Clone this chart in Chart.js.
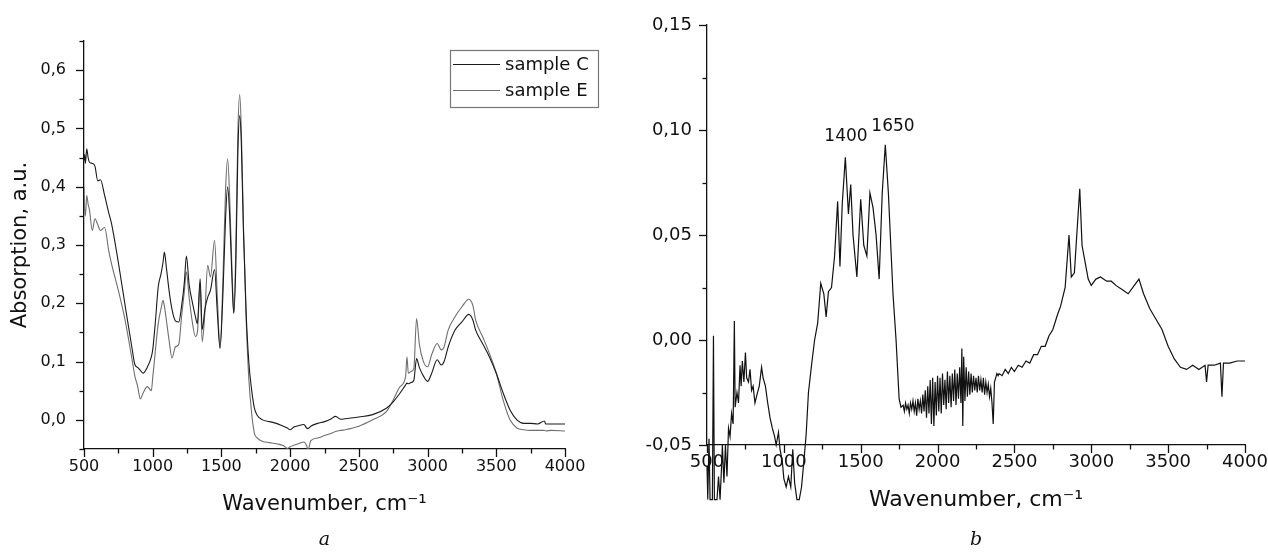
<!DOCTYPE html>
<html>
<head>
<meta charset="utf-8">
<script src="https://cdn.jsdelivr.net/npm/chart.js@4.4.1/dist/chart.umd.min.js"></script>
<style>
  html, body { margin: 0; padding: 0; background: #fff; }
  #wrap { position: relative; width: 1268px; height: 554px; overflow: hidden; }
  #chartA { position: absolute; left: 0; top: 0; }
  #chartB { position: absolute; left: 640px; top: 0; }
</style>
</head>
<body>
<div id="wrap">
  <canvas id="chartA" width="640" height="554"></canvas>
  <canvas id="chartB" width="628" height="554"></canvas>
</div>
<script>
// Panel a: two samples
const wnA = [500, 505, 510, 520, 530, 540, 560, 580, 600, 620, 650, 680, 700, 750, 800, 850, 870, 890, 910, 930,
  960, 990, 1000, 1020, 1040, 1060, 1075, 1085, 1100, 1120, 1140, 1165, 1190, 1210, 1230, 1245, 1265, 1290, 1310, 1325,
  1345, 1360, 1380, 1400, 1420, 1450, 1470, 1490, 1510, 1530, 1545, 1560, 1580, 1590, 1605, 1620, 1633, 1645, 1660, 1680,
  1700, 1720, 1740, 1760, 1800, 1850, 1900, 1950, 1980, 2000, 2030, 2060, 2100, 2120, 2130, 2150, 2200, 2250, 2300, 2330,
  2370, 2400, 2500, 2600, 2700, 2750, 2800, 2840, 2850, 2860, 2880, 2900, 2920, 2940, 2970, 3000, 3030, 3070, 3100, 3120,
  3150, 3200, 3250, 3300, 3330, 3350, 3400, 3450, 3500, 3550, 3600, 3650, 3700, 3750, 3800, 3850, 3860, 3900, 4000];

const sampleC = [0.445, 0.455, 0.44, 0.465, 0.45, 0.442, 0.44, 0.435, 0.41, 0.412, 0.385, 0.355, 0.337, 0.27, 0.195, 0.122, 0.095, 0.09, 0.085, 0.08,
  0.09, 0.108, 0.12, 0.17, 0.228, 0.25, 0.27, 0.288, 0.26, 0.22, 0.19, 0.17, 0.168, 0.195, 0.235, 0.281, 0.232, 0.2, 0.178, 0.165,
  0.242, 0.155, 0.19, 0.21, 0.222, 0.258, 0.185, 0.123, 0.21, 0.345, 0.4, 0.35, 0.222, 0.183, 0.268, 0.462, 0.522, 0.473, 0.325, 0.183,
  0.097, 0.051, 0.02, 0.008, 0.0, -0.003, -0.006, -0.011, -0.014, -0.017, -0.012, -0.01, -0.008, -0.014, -0.015, -0.011, -0.006, -0.003, 0.002, 0.006,
  0.001, 0.002, 0.005, 0.009, 0.02, 0.031, 0.046, 0.06, 0.063, 0.062, 0.064, 0.068, 0.105, 0.09, 0.075, 0.066, 0.08, 0.103, 0.094, 0.1,
  0.125, 0.154, 0.168, 0.181, 0.171, 0.154, 0.131, 0.108, 0.08, 0.046, 0.017, 0.0, -0.006, -0.006, -0.007, -0.002, -0.007, -0.007, -0.007];

const sampleE = [0.40, 0.36, 0.35, 0.385, 0.37, 0.36, 0.325, 0.345, 0.335, 0.325, 0.33, 0.29, 0.268, 0.222, 0.17, 0.103, 0.075, 0.058, 0.036, 0.046,
  0.057, 0.05, 0.072, 0.12, 0.165, 0.19, 0.205, 0.195, 0.17, 0.135, 0.106, 0.125, 0.13, 0.177, 0.22, 0.254, 0.21, 0.165, 0.143, 0.15,
  0.232, 0.134, 0.185, 0.265, 0.245, 0.308, 0.211, 0.123, 0.234, 0.394, 0.448, 0.382, 0.234, 0.183, 0.297, 0.496, 0.558, 0.496, 0.337, 0.171,
  0.068, 0.011, -0.023, -0.031, -0.037, -0.039, -0.041, -0.044, -0.049, -0.046, -0.043, -0.041, -0.038, -0.044, -0.052, -0.036, -0.031, -0.027, -0.023, -0.02,
  -0.018, -0.017, -0.011, 0.0, 0.014, 0.034, 0.057, 0.074, 0.108, 0.08, 0.083, 0.088, 0.174, 0.13, 0.1, 0.091, 0.112, 0.131, 0.12, 0.125,
  0.154, 0.177, 0.194, 0.207, 0.196, 0.171, 0.143, 0.114, 0.08, 0.034, 0.0, -0.014, -0.017, -0.018, -0.018, -0.018, -0.019, -0.018, -0.019];

// Panel b: difference spectrum
const wnB = [500, 505, 513, 520, 535, 542, 548, 565, 575, 585, 595, 600, 610, 620, 630, 640, 650, 660, 670, 678,
  683, 695, 705, 715, 722, 730, 740, 750, 758, 770, 780, 790, 800, 812, 825, 840, 855, 865, 880, 895,
  910, 925, 940, 950, 965, 975, 990, 1000, 1015, 1030, 1045, 1058, 1070, 1085, 1100, 1115, 1130, 1145, 1160, 1180,
  1200, 1220, 1240, 1260, 1275, 1290, 1310, 1330, 1350, 1365, 1380, 1400, 1420, 1435, 1450, 1475, 1500, 1520, 1540, 1560,
  1580, 1600, 1620, 1640, 1660, 1680, 1700, 1710, 1730, 1750,
  1762, 1776, 1784, 1792, 1800, 1808, 1816, 1824, 1832, 1840,
  1848, 1856, 1864, 1872, 1880, 1888, 1896, 1904, 1912, 1920,
  1928, 1936, 1944, 1952, 1960, 1968, 1976, 1984, 1992, 2000,
  2008, 2016, 2024, 2032, 2040, 2048, 2056, 2064, 2072, 2080,
  2088, 2096, 2104, 2112, 2120, 2128, 2136, 2144, 2152, 2158,
  2164, 2170, 2178, 2186, 2194, 2202, 2210, 2218, 2226, 2234,
  2242, 2250, 2258, 2266, 2274, 2282, 2290, 2298, 2306, 2314,
  2322, 2330, 2338, 2346, 2354, 2362, 2370, 2378, 2386, 2394,
  2400, 2420, 2440, 2460, 2480, 2500, 2525, 2550, 2575, 2600,
  2625, 2650, 2675, 2700, 2725, 2750, 2780, 2800, 2830, 2845,
  2855, 2870, 2890, 2910, 2925, 2940, 2960, 2980, 3000, 3030,
  3060, 3100, 3130, 3160, 3200, 3240, 3280, 3310, 3340, 3380,
  3420, 3460, 3500, 3540, 3580, 3620, 3660, 3700, 3740, 3750,
  3760, 3800, 3840, 3850, 3860, 3900, 3950, 4000];

const absB = [-0.06, -0.076, -0.047, -0.076, -0.076, 0.002, -0.076, -0.076, -0.065, -0.076, -0.06, -0.05, -0.068, -0.05, -0.065, -0.042, -0.046, -0.035, -0.04, 0.009,
  -0.032, -0.025, -0.03, -0.012, -0.022, -0.01, -0.02, -0.006, -0.018, -0.02, -0.014, -0.024, -0.022, -0.03, -0.026, -0.022, -0.013, -0.018, -0.022, -0.03,
  -0.037, -0.042, -0.046, -0.05, -0.044, -0.052, -0.058, -0.066, -0.07, -0.065, -0.07, -0.052, -0.068, -0.076, -0.076, -0.07, -0.058, -0.045, -0.025, -0.012,
  0.0, 0.008, 0.027, 0.022, 0.011, 0.023, 0.025, 0.04, 0.066, 0.035, 0.065, 0.087, 0.06, 0.074, 0.05, 0.03, 0.067, 0.045, 0.04, 0.07,
  0.063, 0.05, 0.029, 0.07, 0.093, 0.07, 0.038, 0.022, 0.0, -0.028,
  -0.032, -0.031, -0.034, -0.030, -0.033, -0.031, -0.035, -0.030, -0.033, -0.029,
  -0.034, -0.030, -0.036, -0.028, -0.033, -0.029, -0.035, -0.026, -0.034, -0.024,
  -0.037, -0.022, -0.035, -0.019, -0.040, -0.018, -0.041, -0.020, -0.036, -0.017,
  -0.034, -0.018, -0.035, -0.016, -0.031, -0.019, -0.033, -0.015, -0.030, -0.017,
  -0.032, -0.016, -0.029, -0.014, -0.031, -0.016, -0.028, -0.013, -0.030, -0.004,
  -0.041, -0.008, -0.029, -0.013, -0.027, -0.015, -0.026, -0.016, -0.025, -0.017,
  -0.024, -0.018, -0.025, -0.017, -0.024, -0.019, -0.025, -0.018, -0.026, -0.020,
  -0.025, -0.021, -0.027, -0.023, -0.030, -0.040, -0.020, -0.018, -0.016, -0.017,
  -0.016, -0.017, -0.014, -0.016, -0.013, -0.015, -0.012, -0.013, -0.010, -0.011,
  -0.007, -0.007, -0.003, -0.003, 0.002, 0.005, 0.012, 0.016, 0.025, 0.040,
  0.050, 0.030, 0.032, 0.055, 0.072, 0.045, 0.037, 0.029, 0.026, 0.029,
  0.030, 0.028, 0.028, 0.026, 0.024, 0.022, 0.026, 0.029, 0.022, 0.015,
  0.010, 0.005, -0.003, -0.009, -0.013, -0.014, -0.012, -0.014, -0.012, -0.020,
  -0.012, -0.012, -0.011, -0.027, -0.011, -0.011, -0.010, -0.010];

const peakLabels = ['1400', '1650'];
const peakPos = [[1404, 0.097], [1710, 0.1014]];

const sans = "'DejaVu Sans', Verdana, sans-serif";

function pairs(xs, ys) {
    return xs.map((x, i) => ({ x: x, y: ys[i] }));
}

function isMultiple(v, step) {
    const r = v / step;
    return Math.abs(r - Math.round(r)) < 1e-6;
}

// Outward major/minor tick marks along the bottom and left axes
const tickMarks = {
    id: 'tickMarks',
    afterDraw(chart, args, opts) {
        const ctx = chart.ctx;
        ctx.save();
        ctx.strokeStyle = '#111';
        ctx.lineWidth = 1.3;
        ['x', 'y'].forEach(id => {
            const scale = chart.scales[id];
            const { major, minor } = opts[id];
            const n = Math.round((scale.max - scale.min) / minor);
            for (let i = 0; i <= n; i++) {
                const v = scale.min + i * minor;
                const len = isMultiple(v, major) ? 8 : 4.5;
                const p = Math.round(scale.getPixelForValue(v)) + 0.5;
                ctx.beginPath();
                if (id === 'x') {
                    const y0 = chart.chartArea.bottom;
                    ctx.moveTo(p, y0);
                    ctx.lineTo(p, y0 + len);
                } else {
                    const x0 = chart.chartArea.left;
                    ctx.moveTo(x0, p);
                    ctx.lineTo(x0 - len, p);
                }
                ctx.stroke();
            }
        });
        ctx.restore();
    }
};

// Italic panel letter under the axis title
const panelLetter = {
    id: 'panelLetter',
    afterDraw(chart, args, opts) {
        const ctx = chart.ctx;
        const area = chart.chartArea;
        ctx.save();
        ctx.fillStyle = '#111';
        ctx.font = "italic 19px 'DejaVu Serif', 'Liberation Serif', serif";
        ctx.textAlign = 'center';
        ctx.textBaseline = 'middle';
        ctx.fillText(opts.text, (area.left + area.right) / 2, opts.y);
        ctx.restore();
    }
};

// Boxed legend in the upper right of panel a
const boxLegend = {
    id: 'boxLegend',
    afterDraw(chart, args, opts) {
        if (!opts.show) return;
        const ctx = chart.ctx;
        ctx.save();
        ctx.strokeStyle = '#777';
        ctx.lineWidth = 1.2;
        ctx.strokeRect(opts.left + 0.5, opts.top + 0.5, opts.width, opts.height);
        ctx.font = "18px " + sans;
        ctx.textBaseline = 'middle';
        chart.data.datasets.forEach((ds, i) => {
            const y = opts.top + 14 + i * 26;
            ctx.strokeStyle = ds.borderColor;
            ctx.lineWidth = 1;
            ctx.beginPath();
            ctx.moveTo(opts.left + 3, y + 0.5);
            ctx.lineTo(opts.left + 50, y + 0.5);
            ctx.stroke();
            ctx.fillStyle = '#111';
            ctx.fillText(ds.label, opts.left + 55, y + 1);
        });
        ctx.restore();
    }
};

// Peak labels in panel b, placed through the chart scales
const peakText = {
    id: 'peakText',
    afterDraw(chart, args, opts) {
        if (!opts.labels) return;
        const ctx = chart.ctx;
        ctx.save();
        ctx.fillStyle = '#111';
        ctx.font = "17px " + sans;
        ctx.textAlign = 'center';
        ctx.textBaseline = 'middle';
        opts.labels.forEach((t, i) => {
            const x = chart.scales.x.getPixelForValue(opts.pos[i][0]);
            const y = chart.scales.y.getPixelForValue(opts.pos[i][1]);
            ctx.fillText(t, x, y);
        });
        ctx.restore();
    }
};

function axisOptions(cfg) {
    const tickFont = { family: sans, size: cfg.tickSize };
    const titleFont = { family: sans, size: cfg.titleSize };
    return {
        x: {
            type: 'linear',
            min: 500,
            max: 4000,
            afterFit: s => { s.height = cfg.xHeight; s.paddingLeft = 0; s.paddingRight = 0; },
            grid: { display: false, drawTicks: false },
            border: { display: true, color: '#111', width: 1.3 },
            ticks: {
                stepSize: 500,
                autoSkip: false,
                maxRotation: 0,
                padding: cfg.xPad,
                color: '#111',
                font: tickFont,
                callback: v => String(v)
            },
            title: {
                display: true,
                text: 'Wavenumber, cm\u207B\u00B9',
                color: '#111',
                font: titleFont,
                padding: { top: 0, bottom: cfg.xTitleBottom }
            }
        },
        y: {
            type: 'linear',
            min: cfg.yMin,
            max: cfg.yMax,
            afterFit: s => { s.width = cfg.yWidth; s.paddingTop = 0; s.paddingBottom = 0; },
            grid: { display: false, drawTicks: false },
            border: { display: true, color: '#111', width: 1.3 },
            ticks: {
                stepSize: cfg.yMinor,
                autoSkip: false,
                padding: cfg.yPad,
                color: '#111',
                font: tickFont,
                callback: v => isMultiple(v, cfg.yMajor) ? v.toFixed(cfg.digits).replace('.', ',') : ''
            },
            title: {
                display: !!cfg.yTitle,
                text: cfg.yTitle || '',
                color: '#111',
                font: titleFont,
                padding: { top: 8, bottom: 0 }
            }
        }
    };
}

const chartA = new Chart(document.getElementById('chartA'), {
    type: 'line',
    data: {
        datasets: [
            { label: 'sample C', data: pairs(wnA, sampleC), borderColor: '#1a1a1a', borderWidth: 1.1, pointRadius: 0, cubicInterpolationMode: 'monotone' },
            { label: 'sample E', data: pairs(wnA, sampleE), borderColor: '#6e6e6e', borderWidth: 1.1, pointRadius: 0, cubicInterpolationMode: 'monotone' }
        ]
    },
    options: {
        responsive: false,
        animation: false,
        layout: { padding: { left: 0, right: 75, top: 41, bottom: 0 } },
        scales: axisOptions({ xHeight: 105, xPad: 8, xTitleBottom: 37, yMin: -0.05, yMax: 0.65, yMajor: 0.1, yMinor: 0.05,
            yWidth: 84, yPad: 18, digits: 1, yTitle: 'Absorption, a.u.', tickSize: 16, titleSize: 21 }),
        plugins: {
            legend: { display: false },
            tooltip: { enabled: false },
            tickMarks: { x: { major: 500, minor: 250 }, y: { major: 0.1, minor: 0.05 } },
            panelLetter: { text: 'a', y: 540 },
            boxLegend: { show: true, left: 450, top: 50, width: 148, height: 57 }
        }
    },
    plugins: [tickMarks, panelLetter, boxLegend]
});

const chartB = new Chart(document.getElementById('chartB'), {
    type: 'line',
    data: {
        datasets: [
            { label: 'b', data: pairs(wnB, absB), borderColor: '#111', borderWidth: 1.2, pointRadius: 0, tension: 0, clip: false }
        ]
    },
    options: {
        responsive: false,
        animation: false,
        layout: { padding: { left: 0, right: 23, top: 25, bottom: 0 } },
        scales: axisOptions({ xHeight: 109, xPad: 7, xTitleBottom: 41, yMin: -0.05, yMax: 0.15, yMajor: 0.05, yMinor: 0.025,
            yWidth: 67, yPad: 15, digits: 2, tickSize: 18, titleSize: 22 }),
        plugins: {
            legend: { display: false },
            tooltip: { enabled: false },
            tickMarks: { x: { major: 500, minor: 250 }, y: { major: 0.05, minor: 0.025 } },
            panelLetter: { text: 'b', y: 540 },
            peakText: { labels: peakLabels, pos: peakPos }
        }
    },
    plugins: [tickMarks, panelLetter, peakText]
});
</script>
</body>
</html>
